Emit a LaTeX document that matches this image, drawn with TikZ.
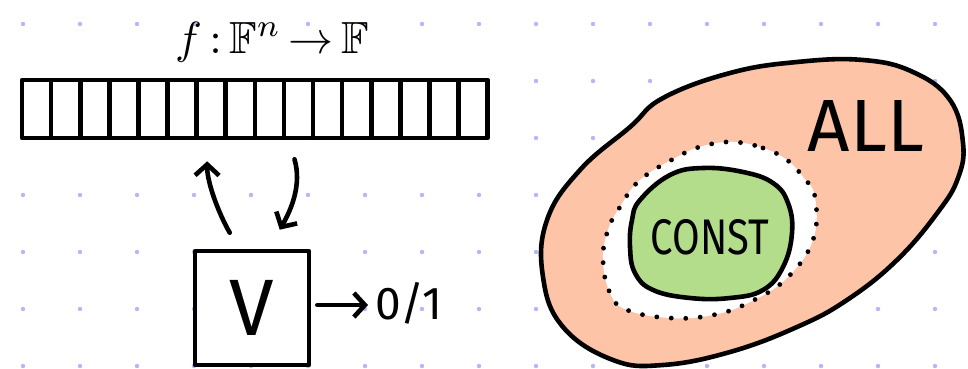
\documentclass[tikz,border=0pt]{standalone}
\usepackage{amssymb}
\usepackage{fontspec}
\setmainfont{Fira Sans}
\usetikzlibrary{arrows.meta}

\definecolor{dotblue}{RGB}{182,182,250}
\definecolor{peach}{RGB}{253,196,168}
\definecolor{leaf}{RGB}{179,220,139}

\begin{document}
\begin{tikzpicture}[x=1pt, y=-1pt, >={Straight Barb[length=11pt,width=24pt]},
    pen/.style={line width=4.6pt, line cap=round, line join=round},
    cell/.style={pen, draw, fill=white, minimum width=29.1pt, minimum height=58pt, inner sep=0pt},
    hand/.style={inner sep=0pt, font=\fontsize{#1}{#1}\selectfont}]

    % Hintergrund und Punktraster
    \useasboundingbox[fill=white] (0,0) rectangle (968,369);
    \foreach \i in {0,...,16}
      \foreach \j in {0,...,6}
        \fill[dotblue] (23+57*\i, 24+57*\j) circle (2.2pt);

    % 1. Band mit 16 Zellen
    \node[scale=4.5] (title) at (272,42) {$f\,{:}\,\mathbb{F}^{n}\,{\to}\,\mathbb{F}$};
    \foreach \i in {0,...,15}
      \node[cell] (c\i) at (36.6+29.1*\i, 109) {};

    % 2. Verifier mit Zugriffen auf das Band
    \node[pen, draw, fill=white, minimum size=114pt, hand=80] (V) at (252,308) {V};
    \coordinate (up0) at ([xshift=37pt, yshift=16pt]V.north west);
    \coordinate (dn1) at ([xshift=87pt, yshift=19pt]V.north west);
    \coordinate (up1) at ([xshift=-4pt, yshift=-21pt]c6.south);
    \coordinate (dn0) at ([xshift=-4pt, yshift=-19pt]c9.south);
    \draw[pen, ->] (up0) .. controls (218,212) and (207,182) .. (up1);
    \draw[pen, ->] (dn0) .. controls (302,185) and (291,210) .. (dn1);

    % Ausgabe
    \node[hand=46, inner sep=7pt, anchor=west] (out) at (368,303) {0/1};
    \draw[pen, ->] ([xshift=6pt, yshift=3pt]V.east) -- ([yshift=-2pt]out.west);

    % 3. Mengen ALL und CONST
    \draw[pen, fill=peach] plot[smooth cycle, tension=0.7] coordinates {
      (663,98) (730,73) (797,62) (863,60) (913,72) (950,100) (963,143)
      (958,178) (938,212) (897,260) (847,300) (797,327) (730,352) (663,365)
      (613,360) (563,327) (543,277) (547,220) (580,170) (630,127)};
    \fill[white] plot[smooth cycle, tension=0.7] coordinates {
      (733,142) (763,148) (787,160) (803,177) (815,197) (813,240) (787,278)
      (750,302) (713,315) (670,318) (627,310) (610,293) (603,260) (608,230)
      (620,207) (640,180) (677,157) (703,146)};
    \draw[line width=4.8pt, line cap=round, dash pattern=on 0pt off 14.5pt]
      plot[smooth cycle, tension=0.7] coordinates {
      (733,142) (763,148) (787,160) (803,177) (815,197) (813,240) (787,278)
      (750,302) (713,315) (670,318) (627,310) (610,293) (603,260) (608,230)
      (620,207) (640,180) (677,157) (703,146)};
    \draw[pen, fill=leaf] plot[smooth cycle, tension=0.7] coordinates {
      (640,200) (670,175) (703,168) (743,172) (773,183) (788,203) (792,233)
      (783,267) (763,290) (730,298) (690,298) (653,290) (635,273) (630,247)
      (632,220)};
    \node[hand=74] (all) at (866,126) {ALL};
    \node[hand=50, xscale=0.8] (const) at (710,237) {CONST};

  \end{tikzpicture}
\end{document}
